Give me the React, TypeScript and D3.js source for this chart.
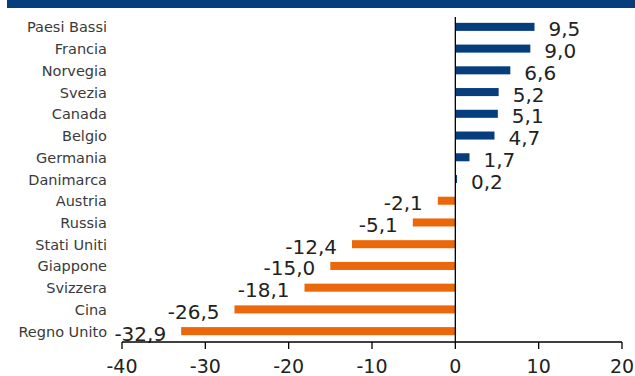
import React from "react";
import * as d3 from "d3";

const countries = [
  "Paesi Bassi",
  "Francia",
  "Norvegia",
  "Svezia",
  "Canada",
  "Belgio",
  "Germania",
  "Danimarca",
  "Austria",
  "Russia",
  "Stati Uniti",
  "Giappone",
  "Svizzera",
  "Cina",
  "Regno Unito",
];
const values = [9.5, 9.0, 6.6, 5.2, 5.1, 4.7, 1.7, 0.2, -2.1, -5.1, -12.4, -15.0, -18.1, -26.5, -32.9];
const xTicks = [-40, -30, -20, -10, 0, 10, 20];

const W = 635;
const H = 376;
const BLUE = "#063d7c";
const ORANGE = "#eb6709";
const FONT = "'DejaVu Sans', sans-serif";

const fmt = (v: number) => d3.format(".1f")(v).replace(".", ",").replace("−", "-");

export default function App() {
  const x = d3.scaleLinear().domain([-40, 20]).range([122, 622]);
  const y = d3
    .scaleBand<string>()
    .domain(countries)
    .range([16, 342])
    .paddingInner(0.63)
    .paddingOuter(0.315);
  const bw = y.bandwidth();
  const axisY = 342;
  const x0 = x(0);

  return (
    <div style={{ position: "fixed", left: 0, top: 0, width: W, height: H, background: "#fff" }}>
      <svg width={W} height={H} style={{ display: "block" }}>
        {/* header band */}
        <rect x={7} y={0} width={W - 7} height={8} fill={BLUE} />

        {/* bars */}
        {countries.map((c, i) => {
          const v = values[i];
          const yy = y(c)!;
          return (
            <rect
              key={c}
              x={Math.min(x(v), x0)}
              y={yy}
              width={Math.abs(x(v) - x0)}
              height={bw}
              fill={v >= 0 ? BLUE : ORANGE}
            />
          );
        })}

        {/* value labels */}
        {countries.map((c, i) => {
          const v = values[i];
          const cy = y(c)! + bw / 2;
          const pos = v >= 0;
          return (
            <text
              key={"v" + c}
              x={pos ? x(v) + 14 : x(v) - 15}
              y={cy + 9.5}
              textAnchor={pos ? "start" : "end"}
              fontFamily={FONT}
              fontSize={20}
              fill="#222"
            >
              {fmt(v)}
            </text>
          );
        })}

        {/* category labels */}
        {countries.map((c) => (
          <text
            key={"c" + c}
            x={107}
            y={y(c)! + bw / 2 + 5.5}
            textAnchor="end"
            fontFamily={FONT}
            fontSize={14.5}
            fill="#3a3a3a"
          >
            {c}
          </text>
        ))}

        {/* axes */}
        <line x1={x0} x2={x0} y1={17} y2={axisY} stroke="#000" strokeWidth={1.3} />
        <line x1={x(-40)} x2={x(20)} y1={axisY} y2={axisY} stroke="#000" strokeWidth={1.3} />
        {xTicks.map((t) => (
          <g key={"t" + t}>
            <line x1={x(t)} x2={x(t)} y1={axisY} y2={axisY + 7} stroke="#000" strokeWidth={1.3} />
            <text
              x={x(t)}
              y={373}
              textAnchor="middle"
              fontFamily={FONT}
              fontSize={19}
              fill="#222"
            >
              {String(t)}
            </text>
          </g>
        ))}
      </svg>
    </div>
  );
}
